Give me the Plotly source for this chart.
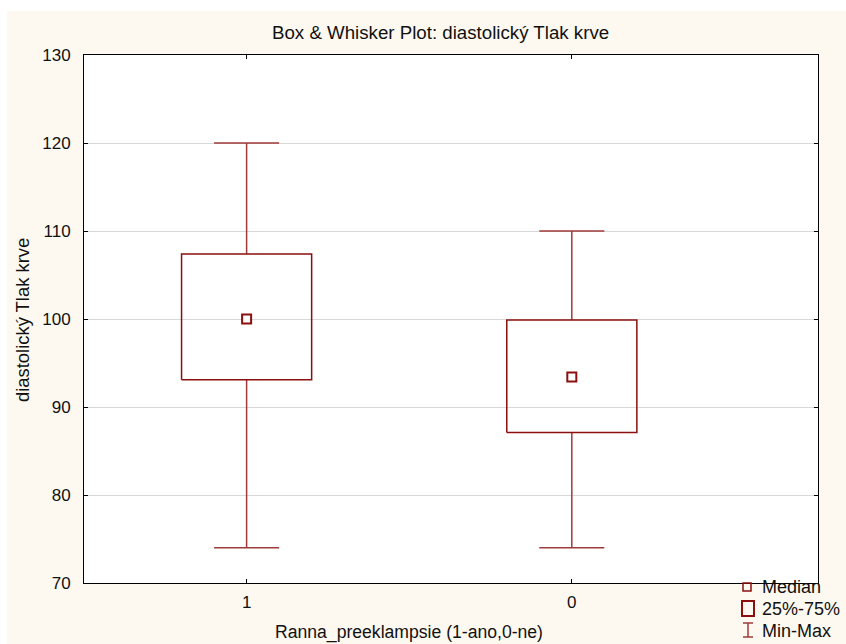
"""Box & whisker plot of diastolic blood pressure by early preeclampsia group."""

import plotly.graph_objects as go

GROUPS = ["1", "0"]
POS = [0, 1]
MINS = [74, 74]
Q1 = [93.1, 87.1]
MEDIANS = [100, 93.4]
Q3 = [107.4, 99.9]
MAXS = [120, 110]
Y_TICKS = [70, 80, 90, 100, 110, 120, 130]

RED = "#8b0f0f"
WHISK = "#a03a3a"
CREAM = "#fdf9f0"
W, H = 846, 644
L, R, T, B = 84, 818, 55, 583  # plot area, pixels
BOX_HALF = 0.2
CAP_HALF = 0.1


def px(x):
    return (x - L) / (R - L)


def py(y):
    return (B - y) / (B - T)


fig = go.Figure()

for p, lo, q1, med, q3, hi in zip(POS, MINS, Q1, MEDIANS, Q3, MAXS):
    # whiskers + caps
    fig.add_trace(go.Scatter(
        x=[p, p, None, p, p, None, p - CAP_HALF, p + CAP_HALF, None,
           p - CAP_HALF, p + CAP_HALF],
        y=[q3, hi, None, q1, lo, None, hi, hi, None, lo, lo],
        mode="lines", line=dict(color=WHISK, width=1.5),
        hoverinfo="skip", showlegend=False))
    # box
    fig.add_trace(go.Scatter(
        x=[p - BOX_HALF, p + BOX_HALF, p + BOX_HALF, p - BOX_HALF, p - BOX_HALF],
        y=[q1, q1, q3, q3, q1],
        mode="lines", line=dict(color=RED, width=1.5),
        hoverinfo="skip", showlegend=False))
    # median
    fig.add_trace(go.Scatter(
        x=[p], y=[med], mode="markers",
        marker=dict(symbol="square", size=9, color="white",
                    line=dict(color=RED, width=2)),
        hoverinfo="skip", showlegend=False))

shapes = [
    dict(type="rect", xref="paper", yref="paper", layer="below",
         x0=px(7), x1=px(W + 5), y0=py(H + 5), y1=py(11),
         fillcolor=CREAM, line=dict(width=0)),
    dict(type="rect", xref="x domain", yref="y domain", layer="below",
         x0=0, x1=1, y0=0, y1=1, fillcolor="white", line=dict(width=0)),
    # legend glyphs
    dict(type="rect", xref="paper", yref="paper",
         x0=px(743), x1=px(751), y0=py(591), y1=py(583),
         line=dict(color=RED, width=1.5), fillcolor="rgba(0,0,0,0)"),
    dict(type="rect", xref="paper", yref="paper",
         x0=px(742), x1=px(754), y0=py(616), y1=py(601),
         line=dict(color=RED, width=2), fillcolor="rgba(0,0,0,0)"),
    dict(type="line", xref="paper", yref="paper",
         x0=px(748), x1=px(748), y0=py(637), y1=py(623),
         line=dict(color=WHISK, width=1.5)),
    dict(type="line", xref="paper", yref="paper",
         x0=px(743), x1=px(753), y0=py(623), y1=py(623),
         line=dict(color=WHISK, width=1.5)),
    dict(type="line", xref="paper", yref="paper",
         x0=px(743), x1=px(753), y0=py(637), y1=py(637),
         line=dict(color=WHISK, width=1.5)),
]

annotations = []
for label, yy in [("Median", 587), ("25%-75%", 609), ("Min-Max", 631)]:
    annotations.append(dict(
        x=px(760), y=py(yy), xref="paper", yref="paper", text=label,
        showarrow=False, xanchor="left", yanchor="middle",
        font=dict(size=18, color="#111111")))

# titles
annotations += [
    dict(x=px(440), y=py(33), xref="paper", yref="paper",
         text="Box & Whisker Plot: diastolický Tlak krve", showarrow=False,
         xanchor="center", yanchor="middle", font=dict(size=18.7)),
    dict(x=px(409), y=py(632), xref="paper", yref="paper",
         text="Ranna_preeklampsie (1-ano,0-ne)", showarrow=False,
         xanchor="center", yanchor="middle", font=dict(size=17.6)),
    dict(x=px(22), y=py(320), xref="paper", yref="paper",
         text="diastolický Tlak krve", showarrow=False, textangle=-90,
         xanchor="center", yanchor="middle", font=dict(size=18.4)),
]

fig.update_layout(
    width=W, height=H,
    margin=dict(l=L, r=W - R, t=T, b=H - B, pad=0),
    paper_bgcolor="white", plot_bgcolor="white",
    font=dict(family="Liberation Sans, Arial, sans-serif", color="#111111"),
    shapes=shapes, annotations=annotations,
    xaxis=dict(range=[-0.5, 1.757], tickvals=POS, ticktext=GROUPS,
               automargin=False,
               showgrid=False, zeroline=False, showline=True,
               linecolor="black", linewidth=1, mirror="ticks",
               ticks="inside", ticklen=4, tickcolor="black",
               tickfont=dict(size=17), ticklabelstandoff=4),
    yaxis=dict(range=[70, 130], tickvals=Y_TICKS, showgrid=True,
               automargin=False,
               gridcolor="#d8d8d8", gridwidth=1, zeroline=False,
               showline=True, linecolor="black", linewidth=1,
               mirror="ticks", ticks="inside", ticklen=4,
               tickcolor="black", tickfont=dict(size=17),
               ticklabelstandoff=9),
)

# drop the default page margin so the figure sits at the window's corner
fig.write_html("out.html",
               config={"displayModeBar": False},
               post_script="document.body.style.margin='0';"
                           "document.body.style.overflow='hidden';")
